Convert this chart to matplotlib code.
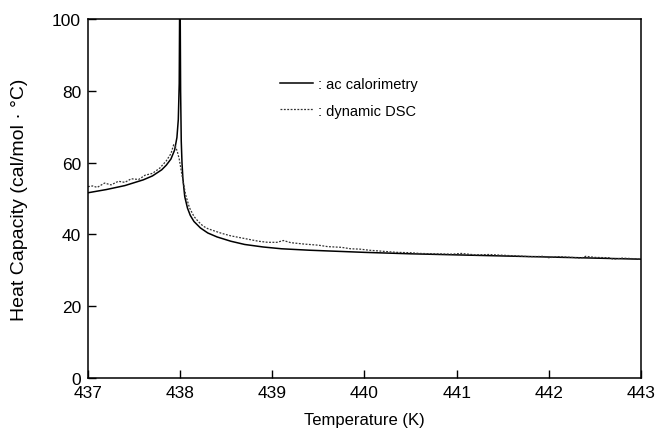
"""
Heat capacity near the transition: ac calorimetry vs dynamic DSC
"""

import matplotlib
matplotlib.use('Agg')
import matplotlib.pyplot as plt

plt.rcParams['font.family'] = ['Liberation Sans', 'DejaVu Sans']

# ac calorimetry (solid line)
ac_temp = [437.0, 437.2, 437.4, 437.6, 437.7, 437.8, 437.85, 437.9, 437.94,
           437.965, 437.98, 437.99, 437.995, 438.0, 438.005, 438.012, 438.02,
           438.03, 438.05, 438.08, 438.11, 438.15, 438.22, 438.3, 438.4,
           438.55, 438.7, 438.9, 439.1, 439.4, 439.7, 440.0, 440.5, 441.0,
           441.5, 442.0, 442.5, 443.0]
ac_cp = [51.6, 52.5, 53.6, 55.2, 56.3, 58.0, 59.3, 61.0, 63.5,
         67.0, 72.0, 82.0, 105.0, 105.0, 80.0, 66.0, 60.0,
         55.5, 50.5, 47.3, 45.3, 43.6, 41.8, 40.4, 39.3,
         38.1, 37.2, 36.5, 36.0, 35.6, 35.3, 35.0, 34.6, 34.3,
         34.0, 33.7, 33.4, 33.1]

# dynamic DSC (dotted line)
dsc_temp = [437.0, 437.05, 437.1, 437.18, 437.25, 437.33, 437.4, 437.47,
            437.55, 437.62, 437.7, 437.78, 437.85, 437.9, 437.93, 437.95,
            437.97, 437.99, 438.01, 438.03, 438.06, 438.1, 438.15, 438.2,
            438.25, 438.3, 438.38, 438.45, 438.55, 438.65, 438.75, 438.85,
            438.95, 439.05, 439.12, 439.2, 439.35, 439.5, 439.6, 439.75,
            439.85, 439.95, 440.05, 440.2, 440.35, 440.5, 440.6, 440.75,
            440.95, 441.05, 441.2, 441.35, 441.5, 441.65, 441.8, 441.95,
            442.0, 442.1, 442.25, 442.35, 442.4, 442.5, 442.65, 442.7,
            442.8, 442.95, 443.0]
dsc_cp = [53.3, 53.5, 53.1, 54.3, 53.8, 54.8, 54.5, 55.5,
          55.3, 56.5, 57.0, 58.5, 60.5, 62.5, 65.0, 64.5,
          63.0, 61.0, 58.0, 55.0, 51.0, 47.5, 45.0, 43.5,
          42.3, 41.6, 40.9, 40.3, 39.6, 39.1, 38.6, 38.1,
          37.8, 37.8, 38.3, 37.7, 37.3, 37.0, 36.6, 36.4,
          36.0, 35.9, 35.6, 35.3, 35.0, 34.9, 34.7, 34.6,
          34.5, 34.7, 34.3, 34.4, 34.2, 34.0, 33.8, 33.9,
          33.5, 33.8, 33.6, 33.4, 33.9, 33.6, 33.5, 33.1,
          33.4, 33.2, 33.0]

x_ticks = [437, 438, 439, 440, 441, 442, 443]
y_ticks = [0, 20, 40, 60, 80, 100]

fig = plt.figure(figsize=(6.6, 4.35), dpi=100)
ax = fig.add_subplot(111)
fig.subplots_adjust(left=0.1333, right=0.9712, top=0.954, bottom=0.1287)

ax.plot(ac_temp, ac_cp, color='black', linestyle='-', linewidth=1.1,
        label=': ac calorimetry')
ax.plot(dsc_temp, dsc_cp, color='#333333', linestyle=(0, (1.5, 1.2)),
        linewidth=0.9, label=': dynamic DSC')

ax.set_xlim(437, 443)
ax.set_ylim(0, 100)
ax.set_xticks(x_ticks)
ax.set_yticks(y_ticks)
ax.tick_params(direction='in', length=6, width=1, labelsize=12.5,
               top=False, right=False, pad=5)

for side in ['left', 'bottom', 'top', 'right']:
    ax.spines[side].set_linewidth(1.1)

ax.set_xlabel('Temperature (K)', fontsize=12, labelpad=9)
ax.set_ylabel('Heat Capacity (cal/mol · °C)', fontsize=14, labelpad=17)

# Legend
ax.legend(loc='upper left', bbox_to_anchor=(0.347, 0.838), frameon=False,
          fontsize=10.5, handlelength=2.3, handletextpad=0.3,
          labelspacing=0.85, borderpad=0, borderaxespad=0)

plt.savefig('out.png', dpi=100)
